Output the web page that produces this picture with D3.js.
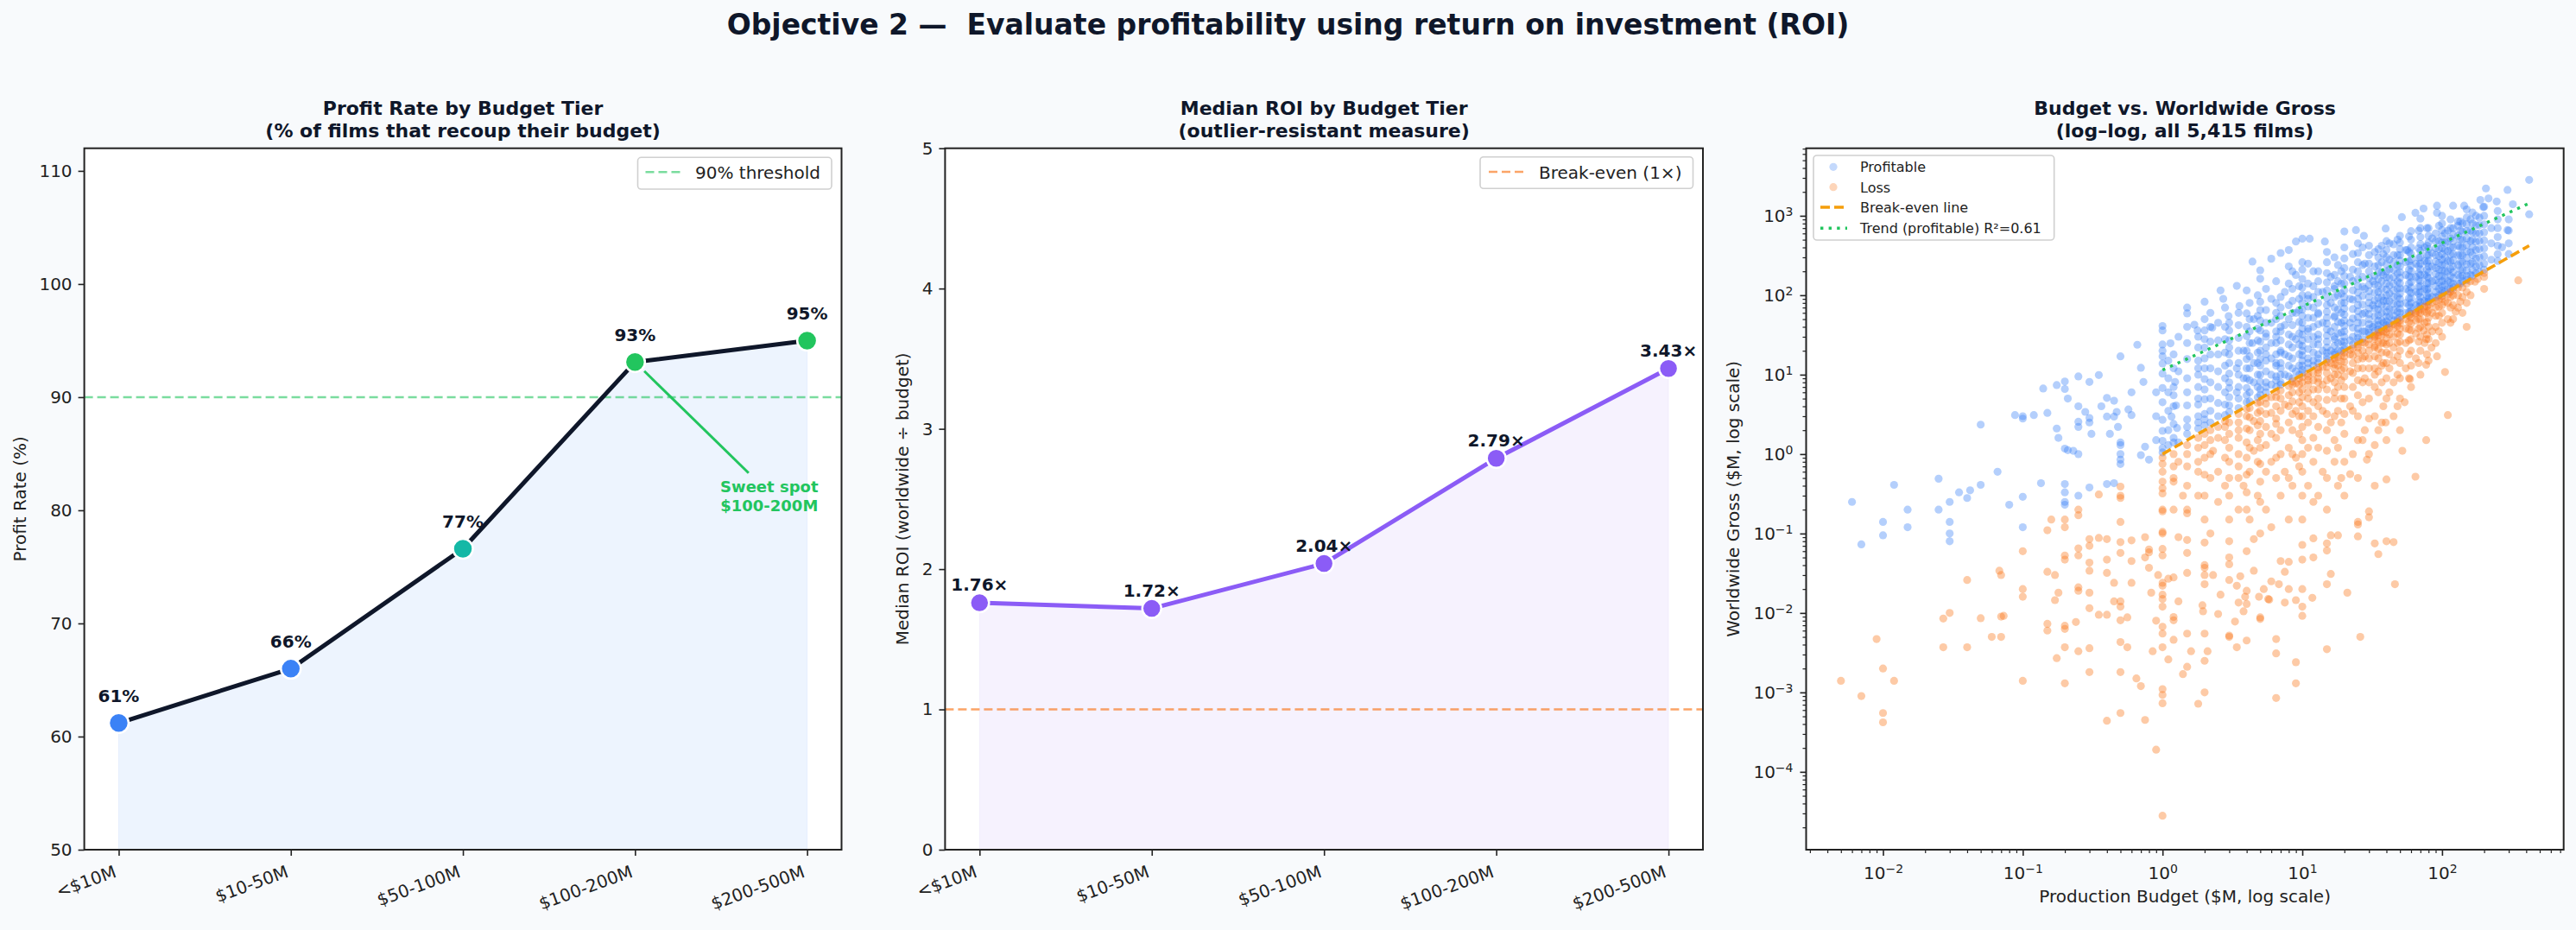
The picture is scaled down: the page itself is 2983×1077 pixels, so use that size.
<!DOCTYPE html>
<html>
<head>
<meta charset="utf-8">
<script src="https://cdn.jsdelivr.net/npm/d3@7"></script>
<style>
  body { margin: 0; background: #f8fafc; }
  svg { display: block; font-family: "DejaVu Sans", sans-serif; }
</style>
</head>
<body>
<svg id="chart" width="2983" height="1077"></svg>
<script>
// Budget tiers shared by the two line charts
const tiers = ["<$10M", "$10-50M", "$50-100M", "$100-200M", "$200-500M"];
const profitRate = [61.2, 66.0, 76.6, 93.1, 95.0];
const tierColors = ["#3b82f6", "#3b82f6", "#14b8a6", "#22c55e", "#22c55e"];
const medianRoi = [1.76, 1.72, 2.04, 2.79, 3.43];

const rateTicks = [50, 60, 70, 80, 90, 100, 110];
const roiTicks = [0, 1, 2, 3, 4, 5];
const threshold = 90;
const breakEvenRoi = 1;

// annotation for the sweet spot (data units: tier index, profit rate)
const sweetSpot = { tier: 3, textAt: [3.78, 81.6], arrowFrom: [3.66, 83.3] };

// Scatter: [budget $M, [worldwide gross $M ...]]
const profitableFilms = [
  [0.006, [0.25]], [0.007, [0.073]], [0.01, [0.14, 0.095]], [0.012, [0.41]],
  [0.015, [0.2, 0.12]], [0.025, [0.49, 0.2]], [0.03, [0.25, 0.14, 0.1, 0.08]],
  [0.035, [0.33]], [0.04, [0.28]], [0.042, [0.35]], [0.05, [2.35, 0.41]],
  [0.066, [0.6]], [0.08, [0.23]], [0.088, [3.1]], [0.1, [3.0, 2.8, 0.29, 0.12]],
  [0.12, [3.1]], [0.135, [0.43]], [0.14, [6.7]], [0.15, [3.3]], [0.175, [7.4, 2.1]],
  [0.18, [1.6]], [0.2, [8.2, 6.6, 1.17, 0.42, 0.33, 0.25, 0.23]], [0.21, [5.0, 1.12]],
  [0.23, [1.1]], [0.25, [9.5, 4.0, 2.55, 2.2, 1.0, 0.3]], [0.28, [3.4]],
  [0.3, [8.1, 2.85, 2.5, 0.38]], [0.31, [1.8]], [0.35, [9.9]], [0.365, [4.0]],
  [0.4, [5.1, 2.97, 0.42]], [0.42, [1.8]], [0.45, [4.7, 2.97, 0.43]], [0.47, [3.4]],
  [0.48, [2.2]], [0.5, [17, 1.4, 1.3, 1.0, 0.85, 0.75]], [0.57, [3.65]],
  [0.6, [3.1, 6.0]], [0.66, [23.8]], [0.7, [12.2, 0.97]], [0.73, [8.1]],
  [0.75, [1.24]], [0.8, [0.85]], [0.9, [1.5, 3, 6]],
  [1, [1.05, 1.19, 1.47, 1.96, 2.7, 4.5, 6.8, 10.3, 13.8, 17, 20, 24, 36, 41]],
  [1.1, [1.3, 2, 3.5, 6, 9, 15]], [1.14, [24.8]], [1.16, [2.97]],
  [1.2, [1.4, 1.6, 2.4, 4, 5.5, 7, 12, 18]], [1.23, [8.1]], [1.25, [4.1]],
  [1.27, [2.13]], [1.3, [1.4, 11, 30]],
  [1.5, [1.8, 2.2, 2.73, 4.1, 6, 9, 15.7, 25, 40, 59, 70]], [1.69, [42.5]],
  [1.78, [36]], [1.8, [2.1, 2.5, 3, 4.2, 5, 7, 10, 12, 15, 22, 30]],
  [2, [2.3, 2.73, 3.2, 4.9, 6.5, 8.8, 12, 16, 21.9, 28, 36, 50, 82.8]],
  [2.2, [2.5, 3.5, 5, 8, 12, 18, 26, 40, 60]], [2.27, [39]],
  [2.5, [3, 4.4, 7, 11, 18, 27, 45]], [2.6, [115]], [2.72, [90]],
  [2.8, [3.1, 4.2, 6, 9, 13, 19, 28, 40, 70]], [2.97, [54.6]],
  [3, [3.4, 4.1, 5.2, 6.8, 8, 10.3, 14, 18, 21.9, 27, 36, 45]],
  [3.4, [131, 12, 6]], [3.5, [3.8, 5, 7, 10, 14, 20, 29, 42, 60]], [3.55, [73]],
  [3.8, [9, 20]], [4, [4.5, 5.5, 6.8, 9, 12, 15.7, 20, 30.5, 40, 59, 115]],
  [4.2, [4.6, 6, 8.5, 12, 17, 25, 35, 50, 80]], [4.4, [265, 25]],
  [4.5, [8, 14, 50]], [4.8, [5.2, 7, 10, 14, 19, 27, 38, 55, 100]],
  [5, [5.6, 6.5, 8.1, 10, 13, 15.7, 20, 26, 36, 48, 65, 82.8, 161, 206]],
  [5.5, [6, 7, 8, 11, 15, 18, 22, 30, 33, 45, 65, 120]],
  [6, [7.5, 10, 16, 25, 45, 288, 90]],
  [6.5, [7, 8.5, 9.5, 13, 14, 18, 25, 30, 35, 50, 60, 80, 150]],
  [7, [7.5, 8, 10, 12, 14, 19, 20, 27, 35, 40, 55, 70, 95, 340]],
  [7.5, [10, 18, 42, 110]],
  [8, [9.5, 13, 17, 24, 32, 50, 75, 140, 370, 230]],
  [8.5, [9, 12, 16, 22, 30, 42, 60, 85, 120, 200]], [9, [11, 28, 60, 474, 180]],
  [9.5, [10, 13, 18, 24, 33, 46, 65, 90, 130]],
  [10, [10.5, 11.5, 13, 15, 17.5, 20, 23, 27, 32, 38, 45, 55, 66, 80, 100, 125, 160, 210, 260, 515]],
  [11, [12, 14, 16, 21, 28, 35, 38, 52, 72, 90, 100, 140, 250]], [11.3, [515]],
  [12, [13, 15, 19, 24, 30, 40, 52, 70, 95, 130, 200]],
  [13, [14, 16, 18, 24, 28, 32, 43, 58, 60, 80, 110, 150, 200]],
  [14, [20, 45, 110]], [14.5, [474]],
  [15, [15.5, 17, 19, 22, 26, 31, 37, 44, 52, 62, 75, 92, 115, 145, 190, 260, 350]],
  [16, [20, 35, 80, 170]], [17, [18, 19, 23, 28, 30, 40, 53, 55, 70, 95, 120, 130, 180, 300]],
  [18, [20, 25, 33, 46, 66, 100, 150, 240]], [19, [20, 26, 34, 45, 60, 80, 105, 140, 200]],
  [20, [21, 23, 26, 30, 35, 41, 48, 57, 68, 80, 95, 115, 140, 175, 220, 290, 400, 634]],
  [22, [27, 45, 90, 170]], [23, [24, 30, 39, 51, 67, 88, 115, 150, 210, 330]],
  [24.2, [661]],
  [25, [26, 29, 33, 38, 45, 53, 63, 75, 90, 108, 130, 160, 200, 260, 340, 450]],
  [27, [28, 35, 45, 58, 76, 98, 128, 170, 240, 400]],
  [27.6, [560]], [28, [35, 60, 120, 250]],
  [30, [31, 34, 38, 43, 50, 58, 68, 80, 95, 112, 135, 165, 200, 250, 320, 420]],
  [32, [40, 75, 150]], [33, [35, 43, 54, 68, 86, 108, 136, 175, 230, 350]],
  [35, [37, 42, 48, 56, 66, 78, 92, 110, 132, 160, 195, 240, 300, 380]],
  [37, [39, 48, 60, 75, 95, 120, 150, 195, 260, 420]],
  [38, [45, 85, 180, 330]], [39.5, [690]],
  [40, [42, 47, 54, 62, 72, 85, 100, 118, 140, 168, 200, 245, 300, 370, 480]],
  [42, [44, 54, 67, 84, 105, 132, 165, 210, 280, 450]],
  [45, [48, 55, 65, 78, 95, 115, 140, 170, 210, 260, 320, 437]],
  [48, [50, 62, 77, 96, 120, 150, 188, 240, 320, 500]],
  [50, [53, 60, 68, 78, 90, 105, 122, 142, 166, 195, 230, 272, 320, 380, 460, 560]],
  [51.6, [962]], [55, [60, 80, 120, 180, 260, 370]], [56.4, [370]],
  [58, [61, 75, 92, 114, 140, 172, 210, 265, 350, 550]],
  [60, [63, 70, 80, 92, 107, 125, 146, 170, 200, 235, 280, 330, 400, 500, 640]],
  [64.5, [1090]], [65, [75, 110, 170, 250]],
  [68, [71, 86, 105, 128, 156, 190, 235, 295, 390, 650]],
  [70, [74, 82, 95, 110, 130, 152, 180, 212, 250, 300, 360, 440, 540, 700, 922]],
  [73.7, [1234]], [75, [85, 120, 180, 270, 400]],
  [78, [82, 98, 118, 142, 172, 210, 258, 320, 420, 700]],
  [80, [84, 92, 105, 122, 142, 165, 195, 230, 272, 320, 380, 460, 560, 700]],
  [85, [95, 150, 230, 340, 520]],
  [90, [95, 110, 130, 155, 185, 220, 265, 320, 390, 480, 600]], [92, [1090, 1341]],
  [95, [100, 120, 145, 175, 210, 255, 310, 380, 480, 750]],
  [100, [105, 115, 130, 150, 175, 205, 240, 280, 330, 390, 460, 550, 660, 800, 1000]],
  [105, [110, 135, 165, 200, 245, 300, 370, 460, 600]],
  [110, [120, 150, 200, 270, 360, 480, 650]],
  [115, [120, 145, 175, 215, 265, 325, 400, 520, 700, 900]],
  [120, [125, 140, 165, 195, 230, 275, 330, 400, 480, 580, 700, 1341]],
  [130, [140, 180, 240, 320, 420, 560, 849, 750]],
  [135, [140, 170, 210, 260, 320, 400, 500, 650, 850]],
  [140, [150, 175, 210, 260, 320, 400, 500, 630, 800]], [144, [1341]],
  [150, [155, 175, 205, 245, 295, 355, 430, 520, 640, 780, 950, 1200]],
  [160, [180, 250, 350, 480, 650, 900]],
  [165, [175, 210, 260, 320, 400, 500, 620, 800, 1100]],
  [175, [190, 230, 290, 370, 470, 600, 760, 1000]],
  [185, [195, 240, 300, 380, 480, 600, 760, 950]], [188, [1585]], [197, [1286]],
  [200, [210, 250, 310, 390, 490, 620, 780, 1000, 1300]], [206, [2208]], [215, [1651]],
  [225, [280, 450, 700]], [246, [1514]],
  [250, [270, 330, 420, 540, 700, 900, 1150]], [269, [402]], [294, [2118, 661]],
  [300, [330, 450, 650, 900]], [321, [1398]], [420, [2833, 1045]],
];

const lossFilms = [
  [0.005, [0.0014]], [0.007, [0.0009]], [0.009, [0.0047]], [0.01, [0.002, 0.00055, 0.00042]],
  [0.012, [0.0014]], [0.027, [0.0085, 0.0037]], [0.03, [0.01]], [0.04, [0.026, 0.0037]],
  [0.05, [0.0086]], [0.06, [0.005]], [0.068, [0.034]], [0.07, [0.005, 0.009, 0.03]],
  [0.073, [0.0092]], [0.1, [0.02, 0.016, 0.0014, 0.06]],
  [0.15, [0.11, 0.033, 0.0073, 0.006]], [0.16, [0.15]], [0.17, [0.03, 0.0145]],
  [0.175, [0.0027]], [0.18, [0.018]],
  [0.2, [0.0069, 0.0063, 0.0037, 0.0013, 0.053, 0.047, 0.15, 0.12]], [0.24, [0.0077]],
  [0.25, [0.021, 0.019, 0.065, 0.053, 0.0033, 0.2, 0.17]],
  [0.3, [0.018, 0.0115, 0.0036, 0.0018, 0.043, 0.034, 0.085, 0.07]],
  [0.35, [0.0095, 0.31, 0.088]], [0.4, [0.0095, 0.00044, 0.085, 0.047, 0.032]],
  [0.45, [0.024, 0.014]],
  [0.5, [0.014, 0.012, 0.0018, 0.00055, 0.0043, 0.0081, 0.057, 0.078, 0.14, 0.39, 0.3, 0.28]],
  [0.56, [0.0037, 0.0088]], [0.6, [0.024, 0.082, 0.045]], [0.65, [0.0015]], [0.7, [0.0012]],
  [0.75, [0.00045, 0.05, 0.09]], [0.8, [0.037, 0.063, 0.058]], [0.83, [0.018]],
  [0.85, [0.0033]], [0.9, [0.00019, 0.008]], [0.93, [0.03]],
  [1, [0.000028, 0.0011, 0.00093, 0.00073, 0.0055, 0.0067, 0.0037, 0.017, 0.015, 0.012,
       0.024, 0.022, 0.1, 0.105, 0.064, 0.053, 0.2, 0.19, 0.45, 0.37, 0.32, 0.6, 0.75, 0.9]],
  [1.1, [0.0026, 0.027]], [1.2, [0.0089, 0.0081, 0.028, 0.0046, 0.2, 0.45, 0.5, 0.7, 1.0]],
  [1.3, [0.014, 0.09, 0.8]], [1.4, [0.0017, 0.3]],
  [1.5, [0.0055, 0.0021, 0.083, 0.032, 0.057, 0.18, 0.2, 0.4, 0.7, 1.0, 1.3]],
  [1.6, [0.0033]], [1.8, [0.00072, 0.3, 0.6, 0.8, 1.2, 1.6]], [1.93, [0.0125]], [1.95, [0.0105]],
  [2, [0.03, 0.0055, 0.0025, 0.001, 0.077, 0.04, 0.037, 0.023, 0.15, 0.3, 0.55, 0.9, 1.3, 1.8]],
  [2.1, [0.0033]], [2.2, [0.1, 0.5, 1.0, 1.5, 2.0]], [2.3, [0.03, 1.1]],
  [2.5, [0.0097, 0.25, 0.6, 1.6, 2.2]], [2.6, [0.017]], [2.8, [0.4, 0.9, 1.5, 2.2, 2.6]],
  [3, [0.026, 0.0052, 0.005, 0.05, 0.041, 0.08, 0.15, 0.3, 0.5, 0.8, 1.2, 1.8, 2.5]],
  [3.3, [0.0078]], [3.4, [0.0037, 0.022]],
  [3.5, [0.0135, 0.2, 0.5, 0.7, 1.0, 1.6, 2, 2.5, 3.2]], [3.6, [0.029]],
  [3.8, [0.0105, 0.4]], [3.9, [0.016]],
  [4, [0.0045, 0.013, 0.019, 0.06, 0.33, 0.2, 0.55, 0.9, 1.4, 2.1, 3.0, 3.7]],
  [4.2, [0.15, 0.6, 1.2, 2.0, 2.9, 3.8]],
  [4.5, [0.034, 0.085, 1.1, 2.6]], [4.8, [0.3, 0.8, 1.5, 2.3, 3.3, 4.4]], [4.9, [0.016]],
  [5, [0.0084, 0.0088, 0.1, 0.25, 0.45, 0.75, 1.2, 1.8, 2.6, 3.5, 4.5]],
  [5.3, [0.02]], [5.5, [0.2, 0.6, 1.3, 2.2, 3.2, 4.3, 5.1]], [5.7, [0.015]], [5.8, [0.0147]],
  [6, [0.025, 0.12, 0.8, 1.8, 3.3, 5.2]],
  [6.5, [0.0031, 0.00085, 0.0047, 0.5, 0.9, 1.6, 2.4, 2.8, 4.0, 5.2, 6.1]], [6.8, [0.023]],
  [7, [0.045, 0.3, 1.0, 2.0, 3.5, 5, 6.3]], [7.5, [0.0135, 0.033, 0.6, 4.2]],
  [8, [0.02, 0.044, 0.15, 0.5, 1.2, 2.5, 4, 5.5, 7.2]],
  [8.5, [0.4, 1.0, 2.0, 3.2, 4.6, 6.0, 7.5, 8.2]],
  [9, [0.0024, 0.0013, 0.0145, 0.9, 3.5, 7.8]], [9.5, [0.7, 1.8, 3.0, 4.5, 6.0, 7.5, 9.0]],
  [10, [0.02, 0.012, 0.0092, 0.047, 0.072, 0.15, 0.3, 0.6, 1.0, 1.5, 2.2, 3.0, 4.0, 5.2, 6.5, 8.0, 9.3]],
  [11, [0.4, 1.2, 2.5, 3.5, 5, 6, 7.5, 8.5, 9.5, 10.3]], [11.8, [0.0155]],
  [12, [0.05, 0.087, 0.25, 0.8, 1.6, 3, 4.5, 6.5, 8.5, 10.5]],
  [13, [0.3, 1.2, 2.2, 4, 5, 6.5, 8, 9, 10.5, 11.5, 12.3]], [14, [0.6, 3.5, 7.5, 12.5]],
  [15, [0.0035, 0.023, 0.075, 0.061, 0.2, 0.5, 1.1, 2, 3.2, 4.8, 6.5, 8.5, 10.5, 12.5, 14.2]],
  [16, [0.031, 0.095, 2.5, 9, 14]],
  [17, [0.8, 1.5, 3, 5, 6, 8, 10, 12, 13.5, 15.5, 16.2]],
  [18, [0.095, 0.4, 1.2, 3.5, 7, 10, 13, 16.5]],
  [19, [0.5, 2.5, 5, 8.5, 11.5, 14.5, 17.5]],
  [20, [0.3, 0.8, 1.8, 3.2, 5, 7, 9.5, 12, 14.5, 17, 19]], [21, [0.018]],
  [22, [0.56, 4, 11, 18, 20.5]], [23, [1, 3.5, 7, 10.5, 14, 17.5, 21.5]],
  [25, [0.092, 0.14, 0.13, 0.5, 1.5, 3, 5.5, 8.5, 12, 15.5, 19, 22, 24]], [26, [0.005]],
  [27, [1.5, 4.5, 8, 12, 16, 20, 25.5]],
  [28, [2, 9, 17, 25]], [29, [0.85]],
  [30, [0.16, 0.19, 1, 2.8, 5, 8, 12, 16, 20, 24, 28]],
  [33, [0.4, 1.3, 0.075, 3, 7, 10, 12, 17, 22, 23, 28, 30, 31.5]],
  [35, [0.055, 2, 6, 11, 16, 21, 26, 31, 34]], [37, [2.5, 8, 13, 19, 25, 31, 35]],
  [38, [4, 14, 25, 35]], [39.5, [2.5]],
  [40, [0.48, 0.08, 1.5, 5, 9, 14, 19, 24, 29, 34, 38]], [42, [6, 12, 18, 25, 32, 39]],
  [45, [0.078, 3, 8, 15, 22, 30, 38, 43]], [46, [0.023]], [48, [4, 10, 17, 25, 33, 41, 46]],
  [50, [2, 5, 9, 14, 20, 26, 32, 38, 44, 48]], [52, [1.1]], [54, [4.5]],
  [55, [12, 25, 38, 50]], [58, [9, 18, 27, 37, 46, 55]], [59, [8.8]],
  [60, [7, 13, 20, 28, 36, 44, 52, 58]],
  [64.5, [0.52, 59]], [65, [16, 33, 48, 60]], [68, [14, 26, 38, 50, 62]],
  [70, [10, 20, 30, 40, 50, 60, 67]],
  [74, [36]], [75, [25, 45, 62, 72]], [77, [1.5, 13.3, 28]], [78, [18, 32, 46, 60, 72]],
  [80, [15, 28, 40, 52, 64, 75]], [84, [21.9]], [85, [35, 60, 80]],
  [90, [25, 40, 55, 70, 85]], [92, [17]], [95, [35, 55, 72, 88]],
  [100, [30, 45, 60, 75, 90, 97]],
  [105, [83, 10.8]], [110, [3.1, 50, 80, 102]], [115, [45, 70, 95, 110]],
  [120, [50, 75, 100, 115]], [125, [62]],
  [130, [70, 100, 125]], [135, [83]], [140, [60, 95, 125]], [150, [40, 80, 110, 140]],
  [160, [100, 150]], [172, [148]], [180, [160]], [200, [120, 170, 190]], [351, [154]],
];

// least-squares fit on the profitable films, in log10 space
const trendFit = { intercept: 1.058, slope: 0.80, r2: 0.61 };
const lineBudgets = [1, 420];

const budgetTicks = [1e-2, 1e-1, 1, 1e1, 1e2];
const grossTicks = [1e-4, 1e-3, 1e-2, 1e-1, 1, 1e1, 1e2, 1e3];

// ---- layout ----
const svg = d3.select("#chart");
const plotTop = 171.7;
const plotBottom = 984;
const panels = [
  { left: 97.6, right: 974.5 },
  { left: 1094.4, right: 1972 },
  { left: 2091.5, right: 2968.7 },
];
const ink = "#0f172a";
const tickInk = "#222";
const dotOpacity = 0.38;

svg.append("rect").attr("width", 2983).attr("height", 1077).attr("fill", "#f8fafc");

svg
  .append("text")
  .attr("x", 1491.5)
  .attr("y", 40)
  .attr("text-anchor", "middle")
  .attr("font-size", 33)
  .attr("font-weight", "bold")
  .attr("fill", ink)
  .style("white-space", "pre")
  .text("Objective 2 —  Evaluate profitability using return on investment (ROI)");

function panelBox(p) {
  svg
    .append("rect")
    .attr("x", p.left)
    .attr("y", plotTop)
    .attr("width", p.right - p.left)
    .attr("height", plotBottom - plotTop)
    .attr("fill", "#fff");
}

function panelFrame(p) {
  svg
    .append("rect")
    .attr("x", p.left)
    .attr("y", plotTop)
    .attr("width", p.right - p.left)
    .attr("height", plotBottom - plotTop)
    .attr("fill", "none")
    .attr("stroke", "#222")
    .attr("stroke-width", 2);
}

function panelTitle(p, lines) {
  const cx = (p.left + p.right) / 2;
  lines.forEach((t, i) => {
    svg
      .append("text")
      .attr("x", cx)
      .attr("y", 133 + i * 25.5)
      .attr("text-anchor", "middle")
      .attr("font-size", 22)
      .attr("font-weight", "bold")
      .attr("fill", ink)
      .text(t);
  });
}

function yLabel(x, text) {
  svg
    .append("text")
    .attr("transform", `translate(${x},${(plotTop + plotBottom) / 2}) rotate(-90)`)
    .attr("text-anchor", "middle")
    .attr("font-size", 20)
    .attr("fill", tickInk)
    .text(text);
}

function styleAxis(g) {
  g.select(".domain").remove();
  g.selectAll("text").attr("font-size", 20).attr("fill", tickInk).attr("font-family", "DejaVu Sans, sans-serif");
  g.selectAll("line").attr("stroke", tickInk).attr("stroke-width", 1.6);
}

function legendBox(x, y, w, h) {
  svg
    .append("rect")
    .attr("x", x)
    .attr("y", y)
    .attr("width", w)
    .attr("height", h)
    .attr("rx", 4)
    .attr("fill", "#fff")
    .attr("fill-opacity", 0.8)
    .attr("stroke", "#d0d0d0")
    .attr("stroke-width", 1.6);
}

function tierAxes(p, xScale, yScale, ticks) {
  const gx = svg
    .append("g")
    .attr("transform", `translate(0,${plotBottom})`)
    .call(d3.axisBottom(xScale).tickSize(7));
  styleAxis(gx);
  gx.selectAll("text")
    .attr("x", 0)
    .attr("y", 0)
    .attr("dy", 0)
    .attr("text-anchor", "end")
    .attr("transform", "translate(-2,31) rotate(-20)");

  const gy = svg
    .append("g")
    .attr("transform", `translate(${p.left},0)`)
    .call(d3.axisLeft(yScale).tickValues(ticks).tickSize(7).tickPadding(7).tickFormat(d3.format("d")));
  styleAxis(gy);
}

// ---- Panel 1: profit rate ----
const p1 = panels[0];
const x1 = d3.scalePoint().domain(tiers).range([p1.left, p1.right]).padding(0.2);
const y1 = d3.scaleLinear().domain([50, 112]).range([plotBottom, plotTop]);
const idx1 = d3.scaleLinear().domain([0, 4]).range([x1(tiers[0]), x1(tiers[4])]);

panelBox(p1);

svg
  .append("path")
  .datum(profitRate)
  .attr("fill", "#3b82f6")
  .attr("fill-opacity", 0.09)
  .attr("stroke", "#3b82f6")
  .attr("stroke-opacity", 0.08)
  .attr("d", d3.area().x((d, i) => x1(tiers[i])).y0(y1(50)).y1((d) => y1(d)));

svg
  .append("line")
  .attr("x1", p1.left)
  .attr("x2", p1.right)
  .attr("y1", y1(threshold))
  .attr("y2", y1(threshold))
  .attr("stroke", "#22c55e")
  .attr("stroke-opacity", 0.6)
  .attr("stroke-width", 2.6)
  .attr("stroke-dasharray", "10,5");

svg
  .append("path")
  .datum(profitRate)
  .attr("fill", "none")
  .attr("stroke", ink)
  .attr("stroke-width", 5)
  .attr("stroke-linejoin", "round")
  .attr("d", d3.line().x((d, i) => x1(tiers[i])).y((d) => y1(d)));

// sweet spot annotation
{
  const tx = idx1(sweetSpot.arrowFrom[0]);
  const ty = y1(sweetSpot.arrowFrom[1]);
  const px = x1(tiers[sweetSpot.tier]);
  const py = y1(profitRate[sweetSpot.tier]);
  const len = Math.hypot(tx - px, ty - py);
  const sx = px + ((tx - px) / len) * 15;
  const sy = py + ((ty - py) / len) * 15;
  svg
    .append("line")
    .attr("x1", tx)
    .attr("y1", ty)
    .attr("x2", sx)
    .attr("y2", sy)
    .attr("stroke", "#22c55e")
    .attr("stroke-width", 3);
  ["Sweet spot", "$100-200M"].forEach((t, i) => {
    svg
      .append("text")
      .attr("x", idx1(sweetSpot.textAt[0]))
      .attr("y", y1(sweetSpot.textAt[1]) + i * 21.7)
      .attr("text-anchor", "middle")
      .attr("font-size", 18)
      .attr("font-weight", "bold")
      .attr("fill", "#22c55e")
      .text(t);
  });
}

svg
  .append("g")
  .selectAll("circle")
  .data(profitRate)
  .enter()
  .append("circle")
  .attr("cx", (d, i) => x1(tiers[i]))
  .attr("cy", (d) => y1(d))
  .attr("r", 11.5)
  .attr("fill", (d, i) => tierColors[i])
  .attr("stroke", "#fff")
  .attr("stroke-width", 2.5);

svg
  .append("g")
  .selectAll("text")
  .data(profitRate)
  .enter()
  .append("text")
  .attr("x", (d, i) => x1(tiers[i]))
  .attr("y", (d) => y1(d) - 24)
  .attr("text-anchor", "middle")
  .attr("font-size", 20)
  .attr("font-weight", "bold")
  .attr("fill", ink)
  .text((d) => d3.format(".0f")(d) + "%");

// legend
legendBox(738.5, 182.3, 224.5, 36.7);
svg
  .append("line")
  .attr("x1", 747.5)
  .attr("x2", 791)
  .attr("y1", 199.3)
  .attr("y2", 199.3)
  .attr("stroke", "#22c55e")
  .attr("stroke-opacity", 0.6)
  .attr("stroke-width", 2.6)
  .attr("stroke-dasharray", "10,5");
svg.append("text").attr("x", 805).attr("y", 207).attr("font-size", 20).attr("fill", tickInk).text("90% threshold");

panelFrame(p1);
tierAxes(p1, x1, y1, rateTicks);
panelTitle(p1, ["Profit Rate by Budget Tier", "(% of films that recoup their budget)"]);
yLabel(30, "Profit Rate (%)");

// ---- Panel 2: median ROI ----
const p2 = panels[1];
const x2 = d3.scalePoint().domain(tiers).range([p2.left, p2.right]).padding(0.2);
const y2 = d3.scaleLinear().domain([0, 5]).range([plotBottom, plotTop]);

panelBox(p2);

svg
  .append("path")
  .datum(medianRoi)
  .attr("fill", "#8b5cf6")
  .attr("fill-opacity", 0.08)
  .attr("stroke", "#8b5cf6")
  .attr("stroke-opacity", 0.06)
  .attr("d", d3.area().x((d, i) => x2(tiers[i])).y0(y2(0)).y1((d) => y2(d)));

svg
  .append("line")
  .attr("x1", p2.left)
  .attr("x2", p2.right)
  .attr("y1", y2(breakEvenRoi))
  .attr("y2", y2(breakEvenRoi))
  .attr("stroke", "#f97316")
  .attr("stroke-opacity", 0.65)
  .attr("stroke-width", 2.6)
  .attr("stroke-dasharray", "10,5");

svg
  .append("path")
  .datum(medianRoi)
  .attr("fill", "none")
  .attr("stroke", "#8b5cf6")
  .attr("stroke-width", 5)
  .attr("stroke-linejoin", "round")
  .attr("d", d3.line().x((d, i) => x2(tiers[i])).y((d) => y2(d)));

svg
  .append("g")
  .selectAll("circle")
  .data(medianRoi)
  .enter()
  .append("circle")
  .attr("cx", (d, i) => x2(tiers[i]))
  .attr("cy", (d) => y2(d))
  .attr("r", 11)
  .attr("fill", "#8b5cf6")
  .attr("stroke", "#fff")
  .attr("stroke-width", 2.5);

svg
  .append("g")
  .selectAll("text")
  .data(medianRoi)
  .enter()
  .append("text")
  .attr("x", (d, i) => x2(tiers[i]))
  .attr("y", (d) => y2(d) - 14)
  .attr("text-anchor", "middle")
  .attr("font-size", 20)
  .attr("font-weight", "bold")
  .attr("fill", ink)
  .text((d) => d3.format(".2f")(d) + "×");

legendBox(1714, 181.7, 246.5, 36.6);
svg
  .append("line")
  .attr("x1", 1724)
  .attr("x2", 1764)
  .attr("y1", 199)
  .attr("y2", 199)
  .attr("stroke", "#f97316")
  .attr("stroke-opacity", 0.65)
  .attr("stroke-width", 2.6)
  .attr("stroke-dasharray", "10,5");
svg.append("text").attr("x", 1782).attr("y", 206.5).attr("font-size", 20).attr("fill", tickInk).text("Break-even (1×)");

panelFrame(p2);
tierAxes(p2, x2, y2, roiTicks);
panelTitle(p2, ["Median ROI by Budget Tier", "(outlier-resistant measure)"]);
yLabel(1052, "Median ROI (worldwide ÷ budget)");

// ---- Panel 3: budget vs gross scatter ----
const p3 = panels[2];
const x3 = d3.scaleLog().domain([10 ** -2.55, 10 ** 2.87]).range([p3.left, p3.right]);
const y3 = d3.scaleLog().domain([10 ** -4.98, 10 ** 3.85]).range([plotBottom, plotTop]);

panelBox(p3);

const flatten = (cols) => cols.flatMap(([b, gs]) => gs.map((g) => ({ budget: b, gross: g })));

svg
  .append("g")
  .selectAll("circle")
  .data(flatten(profitableFilms))
  .enter()
  .append("circle")
  .attr("cx", (d) => x3(d.budget))
  .attr("cy", (d) => y3(d.gross))
  .attr("r", 4.6)
  .attr("fill", "#3b82f6")
  .attr("fill-opacity", dotOpacity);

svg
  .append("g")
  .selectAll("circle")
  .data(flatten(lossFilms))
  .enter()
  .append("circle")
  .attr("cx", (d) => x3(d.budget))
  .attr("cy", (d) => y3(d.gross))
  .attr("r", 4.6)
  .attr("fill", "#f97316")
  .attr("fill-opacity", dotOpacity);

svg
  .append("path")
  .datum(lineBudgets)
  .attr("fill", "none")
  .attr("stroke", "#f59e0b")
  .attr("stroke-width", 3.6)
  .attr("stroke-dasharray", "11,5")
  .attr("d", d3.line().x((b) => x3(b)).y((b) => y3(b)));

svg
  .append("path")
  .datum(lineBudgets)
  .attr("fill", "none")
  .attr("stroke", "#22c55e")
  .attr("stroke-width", 3.4)
  .attr("stroke-dasharray", "3.4,6.2")
  .attr("d", d3
    .line()
    .x((b) => x3(b))
    .y((b) => y3(10 ** (trendFit.intercept + trendFit.slope * Math.log10(b)))));

// legend
legendBox(2100, 180, 278.7, 98);
const legendRows = [193.3, 216.7, 240, 264.3];
svg.append("circle").attr("cx", 2123).attr("cy", legendRows[0]).attr("r", 4.6).attr("fill", "#3b82f6").attr("fill-opacity", 0.3);
svg.append("circle").attr("cx", 2123).attr("cy", legendRows[1]).attr("r", 4.6).attr("fill", "#f97316").attr("fill-opacity", 0.3);
svg.append("line").attr("x1", 2108).attr("x2", 2139).attr("y1", legendRows[2]).attr("y2", legendRows[2])
  .attr("stroke", "#f59e0b").attr("stroke-width", 3.6).attr("stroke-dasharray", "11,5");
svg.append("line").attr("x1", 2108).attr("x2", 2139).attr("y1", legendRows[3]).attr("y2", legendRows[3])
  .attr("stroke", "#22c55e").attr("stroke-width", 3.4).attr("stroke-dasharray", "3.4,6.2");
["Profitable", "Loss", "Break-even line", `Trend (profitable) R²=${trendFit.r2}`].forEach((t, i) => {
  svg
    .append("text")
    .attr("x", 2154)
    .attr("y", legendRows[i] + 5.8)
    .attr("font-size", 16)
    .attr("fill", tickInk)
    .text(t);
});

panelFrame(p3);

function decadeMinors(scale) {
  const [a, b] = scale.domain();
  const out = [];
  for (let e = Math.floor(Math.log10(a)); e <= Math.ceil(Math.log10(b)); e++) {
    for (let k = 2; k <= 9; k++) {
      const v = k * 10 ** e;
      if (v >= a && v <= b) out.push(v);
    }
  }
  return out;
}

function powerLabels(g) {
  g.selectAll("text").each(function (d) {
    const e = Math.round(Math.log10(d));
    const t = d3.select(this);
    t.text("10");
    t.append("tspan")
      .attr("dy", "-0.5em")
      .attr("font-size", 14)
      .text(e < 0 ? "−" + -e : String(e));
  });
}

const gxMinor = svg
  .append("g")
  .attr("transform", `translate(0,${plotBottom})`)
  .call(d3.axisBottom(x3).tickValues(decadeMinors(x3)).tickSize(4).tickFormat(""));
styleAxis(gxMinor);
gxMinor.selectAll("line").attr("stroke-width", 1.2);

const gx3 = svg
  .append("g")
  .attr("transform", `translate(0,${plotBottom})`)
  .call(d3.axisBottom(x3).tickValues(budgetTicks).tickSize(7));
styleAxis(gx3);
gx3.selectAll("text").attr("y", 34).attr("dy", 0);
powerLabels(gx3);

const gyMinor = svg
  .append("g")
  .attr("transform", `translate(${p3.left},0)`)
  .call(d3.axisLeft(y3).tickValues(decadeMinors(y3)).tickSize(4).tickFormat(""));
styleAxis(gyMinor);
gyMinor.selectAll("line").attr("stroke-width", 1.2);

const gy3 = svg
  .append("g")
  .attr("transform", `translate(${p3.left},0)`)
  .call(d3.axisLeft(y3).tickValues(grossTicks).tickSize(7).tickPadding(8));
styleAxis(gy3);
powerLabels(gy3);

panelTitle(p3, ["Budget vs. Worldwide Gross", "(log–log, all 5,415 films)"]);
yLabel(2014, "Worldwide Gross ($M, log scale)");
svg
  .append("text")
  .attr("x", (p3.left + p3.right) / 2)
  .attr("y", 1045)
  .attr("text-anchor", "middle")
  .attr("font-size", 20)
  .attr("fill", tickInk)
  .text("Production Budget ($M, log scale)");
</script>
</body>
</html>
